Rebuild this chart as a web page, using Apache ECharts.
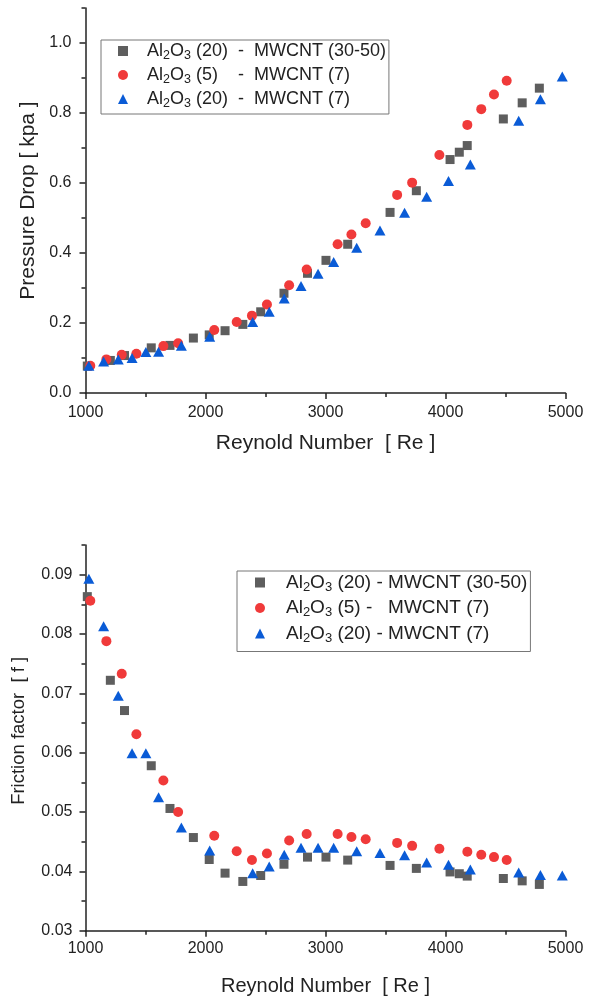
<!DOCTYPE html>
<html>
<head>
<meta charset="utf-8">
<title>Pressure drop and friction factor</title>
<script src="https://cdn.jsdelivr.net/npm/echarts@6/dist/echarts.min.js"></script>
<style>
  html, body { margin: 0; padding: 0; background: #fff; }
  #chart { width: 595px; height: 1000px; }
</style>
</head>
<body>
<div id="chart"></div>
<script>
// series names (legend text is built from these)
var names = ['Al2O3 (20) - MWCNT (30-50)', 'Al2O3 (5) - MWCNT (7)', 'Al2O3 (20) - MWCNT (7)'];
var legendTop = [' (20)  -  MWCNT (30-50)', ' (5)    -  MWCNT (7)', ' (20)  -  MWCNT (7)'];
var legendBottom = [' (20) - MWCNT (30-50)', ' (5) -   MWCNT (7)', ' (20) - MWCNT (7)'];

// Al2O3 (20) - MWCNT (30-50)
var reA = [1015, 1207, 1325, 1548, 1704, 1899, 2031, 2163, 2311, 2460, 2654, 2850, 3004, 3185, 3538, 3757, 4038, 4115, 4181, 4482, 4639, 4782];
var dpA = [0.077, 0.093, 0.107, 0.129, 0.136, 0.157, 0.166, 0.178, 0.196, 0.232, 0.285, 0.342, 0.379, 0.425, 0.516, 0.578, 0.667, 0.688, 0.707, 0.783, 0.829, 0.871];
var fA = [0.0863, 0.0722, 0.0671, 0.0578, 0.0506, 0.0457, 0.0420, 0.0397, 0.0383, 0.0393, 0.0412, 0.0424, 0.0424, 0.0419, 0.0410, 0.0405, 0.0399, 0.0396, 0.0392, 0.0388, 0.0384, 0.0378];

// Al2O3 (5) - MWCNT (7)
var reB = [1040, 1174, 1302, 1424, 1649, 1772, 2073, 2260, 2387, 2512, 2697, 2843, 3101, 3216, 3335, 3597, 3722, 3949, 4182, 4298, 4404, 4510];
var dpB = [0.078, 0.096, 0.109, 0.112, 0.134, 0.142, 0.180, 0.203, 0.221, 0.253, 0.308, 0.353, 0.425, 0.453, 0.485, 0.566, 0.601, 0.680, 0.766, 0.811, 0.853, 0.892];
var fB = [0.0856, 0.0788, 0.0733, 0.0631, 0.0553, 0.0500, 0.0460, 0.0434, 0.0419, 0.0430, 0.0452, 0.0463, 0.0463, 0.0458, 0.0454, 0.0448, 0.0443, 0.0438, 0.0433, 0.0428, 0.0424, 0.0419];

// Al2O3 (20) - MWCNT (7)
var reC = [1028, 1151, 1273, 1388, 1503, 1609, 1799, 2035, 2393, 2531, 2656, 2796, 2938, 3068, 3260, 3454, 3659, 3843, 4025, 4207, 4610, 4791, 4973];
var dpC = [0.078, 0.090, 0.096, 0.100, 0.117, 0.118, 0.135, 0.161, 0.203, 0.232, 0.270, 0.306, 0.341, 0.374, 0.415, 0.464, 0.515, 0.561, 0.606, 0.653, 0.778, 0.839, 0.904];
var fC = [0.0893, 0.0813, 0.0696, 0.0599, 0.0599, 0.0525, 0.0474, 0.0435, 0.0397, 0.0408, 0.0428, 0.0440, 0.0440, 0.0440, 0.0434, 0.0431, 0.0427, 0.0415, 0.0411, 0.0403, 0.0398, 0.0394, 0.0393];

// tick labels
var reTicks = [1000, 2000, 3000, 4000, 5000];
var dpTicks = [0, 0.2, 0.4, 0.6, 0.8, 1.0];
var dpMinor = [0.1, 0.3, 0.5, 0.7, 0.9, 1.1];
var fTicks = [0.03, 0.04, 0.05, 0.06, 0.07, 0.08, 0.09];
var fMinor = [0.035, 0.045, 0.055, 0.065, 0.075, 0.085, 0.095];

var ink = '#222';
var colors = ['#5e5e5e', '#f03a3a', '#0a5bd6'];
var symbols = ['rect', 'circle', 'triangle'];
var sizes = [9, 10, [11, 10]];

function pairs(xs, ys) {
  return xs.map(function (x, i) { return [x, ys[i]]; });
}

// Al2O3 with subscripts, a spacer token pushes the text away from the icon
function legendFormatter(suffixes) {
  return function (name) {
    var i = names.indexOf(name);
    return '{g| }{n|Al}{s|2}{n|O}{s|3}{n|' + suffixes[i] + '}';
  };
}

function xAxis(gridIndex, gap, nameSize, margin) {
  return {
    type: 'value', gridIndex: gridIndex, min: 1000, max: 5000, interval: 1000,
    name: 'Reynold Number  [ Re ]', nameLocation: 'middle', nameGap: gap,
    nameTextStyle: { fontSize: nameSize, color: ink },
    axisLine: { onZero: false, lineStyle: { color: ink, width: 1.5 } },
    axisTick: { customValues: reTicks, length: 6, lineStyle: { color: ink, width: 1.5 } },
    minorTick: { show: true, splitNumber: 2, length: 4, lineStyle: { color: ink, width: 1.5 } },
    axisLabel: {
      customValues: reTicks, fontSize: 16, color: ink, margin: margin,
      formatter: function (v) { return String(v); }
    },
    splitLine: { show: false }
  };
}

var chart = echarts.init(document.getElementById('chart'), null, { renderer: 'canvas' });

var option = {
  animation: false,
  backgroundColor: '#fff',
  textStyle: { fontFamily: 'Liberation Sans, Arial, sans-serif' },
  grid: [
    { left: 85.5, right: 29.5, top: 8, height: 385 },
    { left: 85.5, right: 29.5, top: 545, height: 385.7 }
  ],
  legend: [
    {
      data: names, orient: 'vertical', left: 101, top: 40,
      padding: [2, 3, 4, 17], itemGap: 4, itemWidth: 10, itemHeight: 10,
      symbolKeepAspect: true,
      borderColor: '#777', borderWidth: 1,
      formatter: legendFormatter(legendTop),
      textStyle: {
        color: ink,
        rich: {
          g: { width: 14, fontSize: 18, lineHeight: 22 },
          n: { fontSize: 18, lineHeight: 22, color: ink },
          s: { fontSize: 12.5, lineHeight: 12, verticalAlign: 'bottom', color: ink }
        }
      }
    },
    {
      data: names, orient: 'vertical', left: 237, top: 571,
      padding: [2, 3, 7, 18], itemGap: 5, itemWidth: 10, itemHeight: 10,
      symbolKeepAspect: true,
      borderColor: '#777', borderWidth: 1,
      formatter: legendFormatter(legendBottom),
      textStyle: {
        color: ink,
        rich: {
          g: { width: 16, fontSize: 19, lineHeight: 22 },
          n: { fontSize: 19, lineHeight: 22, color: ink },
          s: { fontSize: 13, lineHeight: 12, verticalAlign: 'bottom', color: ink }
        }
      }
    }
  ],
  xAxis: [
    xAxis(0, 40, 21, 12),
    xAxis(1, 46, 20, 10)
  ],
  yAxis: [
    {
      type: 'value', gridIndex: 0, position: 'left', min: 0, max: 1.1,
      name: 'Pressure Drop [ kpa ]', nameLocation: 'middle', nameGap: 47,
      nameTextStyle: { fontSize: 21, color: ink },
      axisLine: { onZero: false, lineStyle: { color: ink, width: 1.5 } },
      axisTick: { customValues: dpTicks, length: 6, lineStyle: { color: ink, width: 1.5 } },
      axisLabel: {
        customValues: dpTicks, fontSize: 16, color: ink, margin: 14,
        formatter: function (v) { return v.toFixed(1); }
      },
      splitLine: { show: false }
    },
    {
      // minor ticks only
      type: 'value', gridIndex: 0, position: 'left', min: 0, max: 1.1,
      axisLine: { show: false },
      axisTick: { customValues: dpMinor, length: 4, lineStyle: { color: ink, width: 1.5 } },
      axisLabel: { show: false },
      splitLine: { show: false }
    },
    {
      type: 'value', gridIndex: 1, position: 'left', min: 0.03, max: 0.095,
      name: 'Friction factor  [ f ]', nameLocation: 'middle', nameGap: 57,
      nameTextStyle: { fontSize: 18.5, color: ink, padding: [0, 0, 0, 14] },
      axisLine: { onZero: false, lineStyle: { color: ink, width: 1.5 } },
      axisTick: { customValues: fTicks, length: 6, lineStyle: { color: ink, width: 1.5 } },
      axisLabel: {
        customValues: fTicks, fontSize: 16, color: ink, margin: 13,
        formatter: function (v) { return v.toFixed(2); }
      },
      splitLine: { show: false }
    },
    {
      type: 'value', gridIndex: 1, position: 'left', min: 0.03, max: 0.095,
      axisLine: { show: false },
      axisTick: { customValues: fMinor, length: 4, lineStyle: { color: ink, width: 1.5 } },
      axisLabel: { show: false },
      splitLine: { show: false }
    }
  ],
  series: []
};

// top: pressure drop, bottom: friction factor
var tops = [pairs(reA, dpA), pairs(reB, dpB), pairs(reC, dpC)];
var bottoms = [pairs(reA, fA), pairs(reB, fB), pairs(reC, fC)];
for (var i = 0; i < 3; i++) {
  option.series.push({
    name: names[i], type: 'scatter', xAxisIndex: 0, yAxisIndex: 0,
    symbol: symbols[i], symbolSize: sizes[i], itemStyle: { color: colors[i], opacity: 1 },
    data: tops[i]
  });
}
for (var j = 0; j < 3; j++) {
  option.series.push({
    name: names[j], type: 'scatter', xAxisIndex: 1, yAxisIndex: 2,
    symbol: symbols[j], symbolSize: sizes[j], itemStyle: { color: colors[j], opacity: 1 },
    data: bottoms[j]
  });
}

chart.setOption(option);
</script>
</body>
</html>
